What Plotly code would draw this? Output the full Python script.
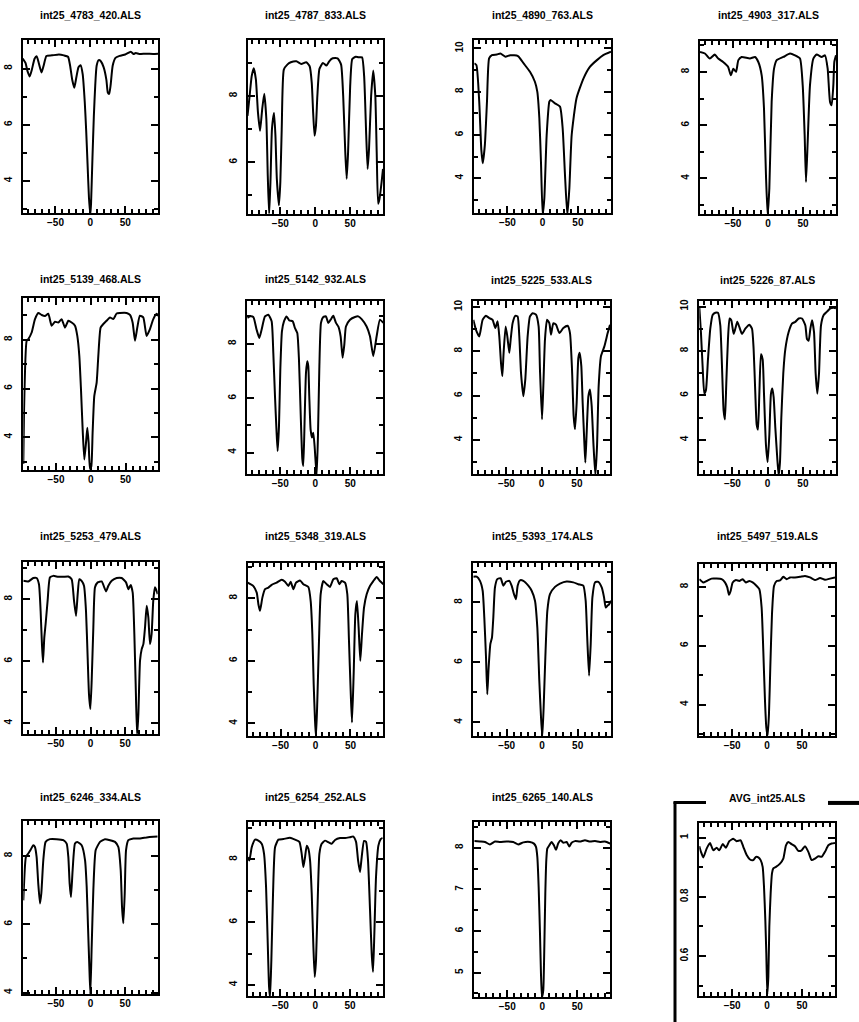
import plotly.graph_objects as go

W, H = 859, 1022

titles = ["int25_4783_420.ALS", "int25_4787_833.ALS", "int25_4890_763.ALS", "int25_4903_317.ALS",
          "int25_5139_468.ALS", "int25_5142_932.ALS", "int25_5225_533.ALS", "int25_5226_87.ALS",
          "int25_5253_479.ALS", "int25_5348_319.ALS", "int25_5393_174.ALS", "int25_5497_519.ALS",
          "int25_6246_334.ALS", "int25_6254_252.ALS", "int25_6265_140.ALS", "AVG_int25.ALS"]

x_p1 = [-97, -93, -90, -87, -84, -80, -77, -74, -70, -67, -63, -55, -45, -38, -32, -29, -26, -23, -20, -17, -14, -11, -8, -6, -4, -2, 0, 1, 3, 5, 7, 9, 12, 15, 19, 23, 25, 27, 29, 32, 36, 42, 50, 58, 62, 65, 70, 80, 90, 97]
y_p1 = [8.36, 8.2, 7.9, 7.72, 7.95, 8.35, 8.44, 8.2, 7.86, 8.1, 8.45, 8.47, 8.5, 8.47, 8.42, 8.1, 7.6, 7.32, 7.7, 8.05, 8.12, 7.8, 6.8, 5.8, 4.6, 3.4, 2.8, 3.2, 4.8, 6.3, 7.4, 8.1, 8.3, 8.26, 8.05, 7.6, 7.15, 7.1, 7.4, 8.1, 8.38, 8.45, 8.5, 8.6, 8.52, 8.55, 8.52, 8.53, 8.52, 8.53]

x_p2 = [-97, -94, -91, -88, -85, -82, -79, -76, -73, -70, -68, -66, -64, -62, -59, -57, -55, -52, -50, -48, -45, -40, -35, -27, -20, -13, -8, -5, -3, -1, 1, 3, 6, 11, 16, 20, 25, 32, 37, 40, 43, 45, 47, 50, 53, 58, 62, 67, 70, 73, 75, 77, 80, 83, 86, 88, 90, 92, 95, 97]
y_p2 = [7.4, 8.0, 8.6, 8.84, 8.5, 7.5, 6.95, 7.6, 8.07, 7.3, 5.6, 4.4, 5.5, 7.0, 7.49, 6.8, 5.5, 4.7, 5.4, 7.0, 8.8, 8.95, 9.02, 9.05, 8.97, 9.02, 8.9, 8.4, 7.5, 6.8, 7.1, 8.0, 8.82, 9.0, 8.92, 9.05, 9.14, 9.14, 8.95, 8.0, 6.3, 5.5, 6.3, 8.3, 9.12, 9.19, 9.17, 9.17, 8.6, 6.8, 5.8, 6.4, 8.0, 8.77, 8.0, 6.3, 4.75, 4.9, 5.4, 5.8]

x_p3 = [-97, -94, -90, -87, -85, -82, -79, -76, -72, -65, -60, -53, -46, -35, -27, -18, -11, -7.6, -4.7, -2.4, 0, 2.4, 5.7, 9.5, 11.4, 17.5, 24.6, 28.4, 31.7, 35, 37.9, 41.2, 48, 58, 67, 77, 86, 97]
y_p3 = [9.31, 9.23, 7.54, 5.3, 4.69, 5.54, 7.54, 9.54, 9.69, 9.72, 9.77, 9.62, 9.69, 9.65, 9.31, 8.92, 8.46, 8.0, 6.77, 4.77, 2.3, 3.08, 6.0, 7.54, 7.62, 7.46, 7.31, 6.31, 4.15, 2.3, 3.54, 6.0, 7.69, 8.62, 9.15, 9.46, 9.69, 9.85]

x_p4 = [-97, -90, -83, -76, -71, -64, -57, -53, -49.5, -45.6, -42.3, -37.6, -25.7, -18.5, -13.8, -9, -5.7, -2.9, -0.5, 1.9, 5.2, 8.6, 12.4, 21.9, 31.4, 38.5, 45.6, 49.5, 52.3, 54.2, 56.6, 59.9, 64.7, 69.4, 76.6, 81.3, 85.1, 88.5, 90.8, 93.2, 94.6, 97]
y_p4 = [8.75, 8.69, 8.5, 8.65, 8.5, 8.37, 8.19, 7.87, 8.12, 8.0, 8.44, 8.56, 8.5, 8.56, 8.37, 7.87, 6.62, 4.12, 2.6, 3.62, 6.87, 8.12, 8.44, 8.56, 8.69, 8.62, 8.5, 7.5, 5.62, 3.87, 5.37, 7.5, 8.5, 8.65, 8.56, 8.62, 8.12, 6.87, 6.75, 7.5, 8.37, 8.62]

x_p5 = [-97, -96, -92.2, -89.8, -85, -80.2, -75.4, -70.6, -65.9, -61.1, -56.3, -51.5, -46.7, -41.9, -37.1, -32.3, -27.5, -22.7, -19.4, -16.5, -14.1, -11.7, -9.3, -6.9, -5, -3.1, -1.2, 0.7, 2.6, 5, 8.4, 10.8, 14.1, 18, 22.7, 27.5, 32.3, 37.1, 41.9, 51.5, 56.3, 60.1, 63.5, 66.8, 70.6, 75.4, 80.2, 85, 89.8, 94.6, 97]
y_p5 = [2.9, 5.0, 7.96, 8.03, 8.3, 8.85, 9.1, 9.02, 8.98, 9.07, 8.58, 8.74, 8.71, 8.85, 8.5, 8.78, 8.71, 8.58, 8.16, 7.34, 5.96, 4.31, 3.08, 3.77, 4.39, 3.77, 2.7, 2.8, 4.18, 5.69, 6.24, 7.34, 8.5, 8.65, 8.78, 8.92, 8.85, 9.08, 9.1, 9.1, 9.02, 8.71, 7.96, 8.5, 8.99, 8.92, 8.16, 8.44, 8.85, 9.07, 8.98]

x_p6 = [-97, -93.2, -88.4, -83.7, -79.9, -76.6, -71.8, -67, -62.3, -59.9, -57.5, -55.2, -53.7, -51.8, -49.9, -47.6, -44.7, -40.9, -37.1, -32.3, -29, -25.7, -23.3, -20.9, -18.5, -17.1, -15.2, -13.3, -11.4, -10, -8.6, -6.7, -4.8, -2.9, -1, 1.9, 3.8, 5.7, 8.1, 11.4, 15.2, 18.5, 21.9, 25.7, 29.5, 32.8, 36.1, 39, 41.4, 43.7, 49.5, 56.6, 61.3, 66.1, 73.2, 78, 82.7, 87.5, 92.2, 97]
y_p6 = [8.94, 9.0, 8.98, 8.51, 8.21, 8.51, 9.0, 9.06, 8.82, 7.66, 6.07, 4.73, 4.06, 4.98, 7.05, 8.45, 8.82, 9.0, 8.85, 8.82, 8.57, 8.39, 7.41, 5.46, 3.76, 3.51, 5.22, 6.93, 7.35, 7.17, 6.07, 4.85, 4.55, 4.73, 4.24, 3.15, 4.61, 7.05, 8.76, 8.98, 9.0, 8.76, 8.88, 9.02, 8.76, 8.63, 8.27, 7.48, 7.96, 8.63, 8.88, 8.98, 9.0, 8.9, 8.63, 8.27, 7.54, 8.27, 8.88, 8.76]

x_p7 = [-97, -93.2, -88.5, -83.8, -79, -74.3, -69.6, -65.8, -62.5, -60.1, -57.7, -55.8, -54, -51.1, -48.7, -45.9, -44, -41.2, -37.4, -34.1, -31.7, -29.3, -26, -23.2, -19.9, -16.6, -12.8, -8, -4.3, -2.4, 0.5, 2.4, 4.7, 7.6, 10.9, 13.3, 16.6, 20.4, 25.1, 30.8, 36.9, 40.2, 43.1, 45.4, 47.3, 49.7, 52.1, 54, 56.3, 58.2, 60.6, 62, 63.9, 66.3, 68.6, 71, 73.4, 76.2, 78.6, 80.9, 84.2, 89, 93.7, 97]
y_p7 = [9.42, 8.97, 8.67, 9.42, 9.6, 9.5, 9.42, 9.05, 9.35, 8.67, 7.48, 6.88, 7.93, 9.12, 8.67, 7.93, 8.52, 9.27, 9.6, 9.57, 8.67, 7.03, 5.97, 6.73, 8.67, 9.57, 9.72, 9.65, 9.12, 7.18, 4.93, 6.43, 8.52, 9.42, 9.27, 8.75, 9.27, 9.2, 8.82, 9.05, 9.15, 8.82, 7.18, 5.08, 4.48, 5.68, 7.7, 7.93, 7.33, 5.68, 3.88, 2.98, 4.33, 5.97, 6.28, 5.53, 3.88, 2.4, 3.73, 6.43, 7.78, 8.22, 8.82, 9.2]

x_p8 = [-97, -94.7, -92.3, -89.9, -87.6, -84.7, -81.4, -78.1, -74.3, -70.5, -67.2, -64.8, -62.5, -60.6, -58.7, -56.3, -54, -51.6, -48.3, -45.9, -43.1, -40.2, -36.4, -31.7, -26, -22.2, -19.9, -17.5, -15.6, -13.7, -11.8, -9.5, -7.1, -5.2, -2.4, 0, 2.4, 4.7, 6.6, 8.5, 10.9, 13.7, 15.6, 17.5, 19.4, 22.2, 25.1, 29.8, 34.5, 39.3, 44, 48.7, 53.5, 55.8, 58.2, 60.6, 63, 65.8, 68.1, 70.5, 72.9, 75.7, 79.5, 84.2, 89, 93.7, 97]
y_p8 = [10.0, 8.85, 7.31, 6.08, 6.23, 7.62, 9.0, 9.62, 9.72, 9.72, 9.15, 7.31, 5.31, 4.92, 6.54, 8.54, 9.46, 9.38, 8.77, 9.0, 9.31, 9.08, 8.77, 9.0, 9.18, 9.0, 8.08, 6.08, 4.69, 4.46, 6.08, 7.85, 7.62, 6.08, 3.77, 3.0, 4.23, 6.08, 6.31, 5.92, 4.54, 3.15, 2.4, 3.0, 5.0, 7.0, 8.08, 8.85, 9.23, 9.31, 9.46, 9.46, 9.15, 8.54, 8.46, 9.0, 9.38, 8.85, 7.0, 6.08, 7.0, 9.15, 9.62, 9.77, 9.92, 9.95, 9.92]

x_p9 = [-97, -89.8, -82.6, -77.8, -74.4, -72, -70.1, -68.6, -66.7, -64.8, -61.9, -58.5, -53.7, -46.5, -39.2, -32, -27.2, -23.8, -20.9, -18.5, -16.1, -12.8, -9.4, -6.5, -4.1, -2.2, -0.2, 1.7, 4.1, 6.5, 10.4, 16.1, 22.4, 25.8, 30.6, 37.8, 45, 51.3, 54.6, 58, 60.9, 63.3, 65.2, 67.2, 69.1, 71.5, 73.9, 76.3, 78.7, 81.1, 83.5, 85.9, 88.2, 90.6, 93, 95.4, 97]
y_p9 = [8.59, 8.57, 8.68, 8.68, 8.48, 7.62, 6.55, 5.96, 6.76, 7.2, 7.95, 8.7, 8.75, 8.72, 8.72, 8.73, 8.64, 7.95, 7.46, 8.16, 8.64, 8.59, 8.43, 7.62, 6.12, 4.94, 4.46, 5.37, 7.09, 8.38, 8.54, 8.57, 8.25, 8.43, 8.59, 8.68, 8.68, 8.54, 8.32, 8.46, 8.21, 6.87, 5.27, 3.6, 4.3, 6.02, 6.39, 6.55, 7.09, 7.79, 7.41, 6.55, 6.87, 7.95, 8.38, 8.27, 8.16]

x_p10 = [-97, -88.9, -84.1, -81.7, -79.4, -76, -72.2, -67.4, -62.7, -55.5, -48.4, -43.6, -38.8, -35.5, -31.7, -27.9, -22.2, -17.4, -10.2, -6.9, -4.5, -2.6, -0.7, 0.7, 2.6, 5, 7.4, 11.2, 16, 20.7, 25.5, 30.3, 34.1, 37.4, 42.2, 45.5, 47.9, 50.3, 52.2, 54.6, 57, 59.3, 61.7, 64.1, 66.5, 69.4, 73.2, 77.9, 82.7, 87.5, 92.2, 97]
y_p10 = [8.5, 8.39, 8.18, 7.81, 7.6, 8.02, 8.29, 8.34, 8.43, 8.5, 8.59, 8.53, 8.39, 8.53, 8.29, 8.5, 8.57, 8.45, 8.36, 7.91, 6.85, 5.26, 4.09, 3.55, 4.72, 6.64, 8.13, 8.55, 8.45, 8.36, 8.61, 8.64, 8.45, 8.55, 8.5, 8.13, 6.64, 5.04, 4.03, 5.57, 7.49, 7.91, 7.06, 6.0, 6.85, 7.7, 8.13, 8.39, 8.55, 8.68, 8.55, 8.45]

x_p11 = [-97, -92.3, -87.6, -83.8, -81.5, -79.1, -77.3, -75.4, -73, -70.7, -68.8, -66.5, -63.2, -58.5, -54.7, -51, -46.3, -43, -39.7, -36.9, -34.5, -31.2, -26.5, -19.5, -14.8, -10.1, -6.8, -4, -1.6, 0.2, 2.1, 4.5, 7.3, 11, 18.1, 25.1, 34.5, 43.9, 51, 58, 61.3, 63.7, 66.1, 68.4, 70.8, 74.5, 79.2, 83.9, 87.2, 89.5, 91.9, 94.3, 97]
y_p11 = [8.86, 8.86, 8.72, 8.39, 7.5, 6.17, 4.94, 5.83, 6.61, 6.83, 7.5, 8.5, 8.78, 8.81, 8.56, 8.69, 8.72, 8.56, 8.28, 8.11, 8.56, 8.74, 8.72, 8.56, 8.39, 8.06, 7.17, 5.39, 4.17, 3.5, 4.5, 6.17, 7.72, 8.28, 8.52, 8.63, 8.7, 8.67, 8.61, 8.56, 8.06, 6.72, 5.56, 6.61, 8.17, 8.67, 8.69, 8.5, 8.17, 7.83, 7.89, 7.94, 8.06]

x_p12 = [-97, -91.3, -86.5, -79.4, -72.2, -65.1, -60.3, -57, -54.6, -52.2, -49.3, -44.6, -39.8, -35, -30.3, -25.5, -20.7, -15, -11.2, -7.9, -5.5, -3.1, -1.2, 0.7, 2.6, 4.5, 6.9, 9.8, 13.6, 18.4, 23.1, 27.9, 32.7, 39.8, 47, 54.1, 61.3, 68.4, 75.6, 82.7, 89.9, 97]
y_p12 = [8.26, 8.15, 8.2, 8.28, 8.28, 8.26, 8.15, 7.98, 7.73, 7.86, 8.15, 8.23, 8.2, 8.26, 8.15, 8.2, 8.15, 8.03, 7.92, 7.3, 5.83, 4.14, 3.23, 2.95, 3.68, 5.27, 7.07, 8.03, 8.2, 8.22, 8.34, 8.26, 8.32, 8.32, 8.34, 8.37, 8.32, 8.23, 8.3, 8.24, 8.28, 8.32]

x_p13 = [-97, -94.6, -93.2, -89.8, -86.4, -82.6, -80.2, -77.8, -75.4, -72.9, -71, -68.1, -64.8, -58.5, -48.9, -39.2, -34.4, -32, -30.1, -28.2, -25.8, -22.4, -19, -12.8, -7.9, -5.5, -3.6, -1.7, -0.2, 1.7, 4.1, 7.5, 13.7, 20.9, 28.2, 35.4, 40.2, 43.6, 45.5, 47.4, 49.4, 51.3, 54.6, 61.9, 71.5, 81.1, 90.8, 97]
y_p13 = [6.7, 7.7, 7.97, 8.07, 8.18, 8.31, 8.26, 7.97, 7.19, 6.61, 6.9, 7.88, 8.41, 8.49, 8.49, 8.46, 8.36, 7.97, 7.19, 6.8, 7.58, 8.36, 8.41, 8.31, 7.88, 7.1, 5.93, 4.77, 3.95, 5.35, 7.0, 8.17, 8.41, 8.49, 8.46, 8.41, 8.26, 7.58, 6.51, 6.03, 6.9, 8.17, 8.46, 8.51, 8.51, 8.54, 8.56, 8.57]

x_p14 = [-97, -94.6, -91.2, -86.4, -81.7, -76.9, -73.5, -70.6, -68.2, -66.3, -64.9, -63, -60.6, -57.7, -52.9, -45.7, -36.2, -29, -22.7, -19.4, -17, -14.6, -12.2, -9.8, -7.4, -5, -2.6, -0.7, 1.2, 3.6, 6, 9.3, 14.1, 18.9, 23.7, 28.5, 35.7, 42.9, 50, 54.8, 58.7, 61.6, 64.4, 66.8, 70.2, 73.1, 75.9, 78.8, 81.2, 83.1, 85, 87.4, 90.8, 94.1, 97]
y_p14 = [8.07, 7.97, 8.39, 8.63, 8.6, 8.5, 8.18, 7.12, 5.33, 3.95, 3.6, 4.8, 6.91, 8.39, 8.63, 8.65, 8.69, 8.63, 8.56, 8.18, 7.76, 8.07, 8.44, 8.34, 7.97, 6.91, 5.22, 4.26, 4.8, 6.7, 8.18, 8.5, 8.6, 8.55, 8.5, 8.62, 8.68, 8.68, 8.71, 8.73, 8.56, 7.97, 7.6, 8.07, 8.59, 8.56, 7.97, 6.38, 5.0, 4.42, 5.64, 7.44, 8.44, 8.65, 8.69]

x_p15 = [-97, -88.9, -81.8, -74.7, -67.5, -60.4, -50.9, -41.4, -34.2, -27.1, -17.6, -11.9, -9, -7.1, -5.2, -3.3, -1.9, -0.5, 1.4, 2.9, 4.3, 5.7, 7.1, 10, 13.3, 16.6, 19.5, 22.8, 26.2, 30, 34.7, 38.5, 41.8, 46.6, 53.7, 60.9, 68, 75.1, 82.3, 89.4, 97]
y_p15 = [8.16, 8.15, 8.14, 8.08, 8.15, 8.14, 8.15, 8.14, 8.08, 8.13, 8.14, 8.1, 8.02, 7.78, 7.06, 5.94, 4.98, 4.4, 4.58, 5.62, 6.9, 7.7, 7.98, 8.06, 8.14, 8.06, 7.95, 8.11, 8.18, 8.12, 8.14, 8.03, 8.12, 8.16, 8.15, 8.18, 8.15, 8.16, 8.14, 8.15, 8.1]

x_p16 = [-97, -94.6, -91.3, -86.5, -81.7, -77, -72.2, -68.4, -63.6, -58.9, -54.1, -48.4, -43.6, -37.9, -34.1, -29.3, -24.5, -19.8, -16, -12.6, -9.3, -6.4, -4.5, -2.6, -1.2, 0.2, 1.7, 3.1, 5, 6.9, 8.8, 12.6, 18.4, 23.1, 26.9, 30.3, 35, 39.8, 44.6, 49.3, 54.1, 58.9, 63.6, 68.4, 73.2, 77.9, 82.7, 87.5, 92.2, 97]
y_p16 = [0.971, 0.952, 0.933, 0.963, 0.982, 0.957, 0.966, 0.957, 0.978, 0.966, 0.988, 0.996, 0.988, 0.991, 0.969, 0.941, 0.926, 0.924, 0.935, 0.933, 0.924, 0.901, 0.834, 0.721, 0.609, 0.47, 0.53, 0.699, 0.812, 0.879, 0.896, 0.901, 0.912, 0.929, 0.974, 0.985, 0.978, 0.971, 0.955, 0.957, 0.971, 0.952, 0.924, 0.929, 0.937, 0.935, 0.952, 0.974, 0.98, 0.982]

series = [(x_p1, y_p1), (x_p2, y_p2), (x_p3, y_p3), (x_p4, y_p4),
          (x_p5, y_p5), (x_p6, y_p6), (x_p7, y_p7), (x_p8, y_p8),
          (x_p9, y_p9), (x_p10, y_p10), (x_p11, y_p11), (x_p12, y_p12),
          (x_p13, y_p13), (x_p14, y_p14), (x_p15, y_p15), (x_p16, y_p16)]

x_range = [-97, 97]
y_ranges = [[2.85, 9.03], [4.45, 9.68], [2.38, 10.38], [2.68, 9.15],
            [2.65, 9.7], [3.21, 9.55], [2.46, 10.25], [2.46, 10.23],
            [3.66, 9.2], [3.61, 9.14], [3.56, 9.33], [2.95, 8.79],
            [3.95, 9.01], [3.65, 9.19], [4.42, 8.61], [0.465, 1.049]]
y_dtick = [2, 2, 2, 2, 2, 2, 2, 2, 2, 2, 2, 2, 2, 2, 1, 0.2]
y_minor = [1, 1, 1, 1, 1, 1, 1, 1, 1, 1, 1, 1, 1, 1, 0.5, 0.1]

# panel frames in pixels: left, right, top, bottom
frames = [(22.7, 158, 37.7, 211.7), (247.5, 383, 38.5, 212), (474.3, 611, 38.3, 211.7), (700, 836, 39.3, 212),
          (23.3, 158.3, 297, 469), (247.3, 383.3, 300, 473), (473.3, 610, 300, 473), (699.3, 836, 300, 473),
          (23.3, 157.7, 561, 733.3), (247.7, 383.3, 561.7, 735), (473.3, 611, 561.7, 735), (699.3, 835, 562.7, 735),
          (23.3, 157.7, 821, 994.3), (247.7, 382.7, 821.7, 996), (474.3, 610.3, 822, 996.7), (699.3, 835, 822.7, 996)]
title_y = [13, 13, 13, 13, 278, 278, 279, 279, 535, 535, 535, 535, 797, 797, 797, 798]

FONT = "Liberation Sans"
tickfont = dict(family=FONT, size=10, color="black", weight="bold")
NP = len(series)

fig = go.Figure()
layout = {}
annotations = []
for i, ((xs, ys), title, yr, fr) in enumerate(zip(series, titles, y_ranges, frames)):
    n = i + 1
    m = n + NP
    xa = "x" if n == 1 else f"x{n}"
    ya = "y" if n == 1 else f"y{n}"
    fig.add_trace(go.Scatter(x=xs, y=ys, xaxis=xa, yaxis=ya, mode="lines",
                             line=dict(color="black", width=2, shape="spline", smoothing=0.5),
                             showlegend=False, hoverinfo="skip"))
    # invisible copy on the overlay axes that carry the minor ticks
    fig.add_trace(go.Scatter(x=xs, y=ys, xaxis=f"x{m}", yaxis=f"y{m}", mode="lines",
                             line=dict(color="rgba(0,0,0,0)", width=0),
                             showlegend=False, hoverinfo="skip"))
    L, R, T, B = fr
    xdom = [L / W, R / W]
    ydom = [1 - B / H, 1 - T / H]
    layout["xaxis" if n == 1 else f"xaxis{n}"] = dict(
        domain=xdom, anchor=ya, range=x_range, tickmode="linear", tick0=0, dtick=50,
        ticks="inside", tickcolor="black", tickwidth=1.5, ticklen=7,
        showline=True, linewidth=2, linecolor="black", mirror="allticks",
        showgrid=False, zeroline=False, tickfont=tickfont, fixedrange=True,
        ticklabelstandoff=-1)
    layout["yaxis" if n == 1 else f"yaxis{n}"] = dict(
        domain=ydom, anchor=xa, range=yr, tickmode="linear", tick0=0, dtick=y_dtick[i],
        ticks="inside", tickcolor="black", tickwidth=1.5, ticklen=7,
        showline=True, linewidth=2, linecolor="black", mirror="allticks",
        showgrid=False, zeroline=False, tickfont=tickfont, fixedrange=True,
        tickangle=-90, ticklabelstandoff=5)
    # minor tick overlay axes
    layout[f"xaxis{m}"] = dict(
        overlaying=xa, anchor=f"y{m}", range=x_range, tickmode="linear", tick0=0, dtick=10,
        ticks="inside", tickcolor="black", tickwidth=1.5, ticklen=4, mirror="allticks",
        showline=False, showgrid=False, zeroline=False, showticklabels=False, fixedrange=True)
    layout[f"yaxis{m}"] = dict(
        overlaying=ya, anchor=f"x{m}", range=yr, tickmode="linear", tick0=0, dtick=y_minor[i],
        ticks="inside", tickcolor="black", tickwidth=1.5, ticklen=4, mirror="allticks",
        showline=False, showgrid=False, zeroline=False, showticklabels=False, fixedrange=True)
    annotations.append(dict(text=title, xref="paper", yref="paper", x=(L + R) / 2 / W, y=1 - title_y[i] / H,
                            xanchor="center", yanchor="middle", showarrow=False,
                            font=dict(family=FONT, size=10.5, color="black", weight="bold")))

shapes = [
    dict(type="line", xref="paper", yref="paper", x0=675 / W, x1=675 / W, y0=1 - 801.5 / H, y1=0,
         line=dict(color="black", width=3)),
    dict(type="line", xref="paper", yref="paper", x0=673.5 / W, x1=706 / W, y0=1 - 802 / H, y1=1 - 802 / H,
         line=dict(color="black", width=3)),
    dict(type="line", xref="paper", yref="paper", x0=828 / W, x1=1, y0=1 - 802.5 / H, y1=1 - 802.5 / H,
         line=dict(color="black", width=4)),
]

fig.update_layout(width=W, height=H, margin=dict(l=0, r=0, t=0, b=0), autosize=False,
                  paper_bgcolor="white", plot_bgcolor="rgba(0,0,0,0)", annotations=annotations, shapes=shapes,
                  showlegend=False, **layout)

fig.write_html("out.html", config={"displayModeBar": False},
               post_script="document.body.style.margin='0';document.body.style.overflow='hidden';")
